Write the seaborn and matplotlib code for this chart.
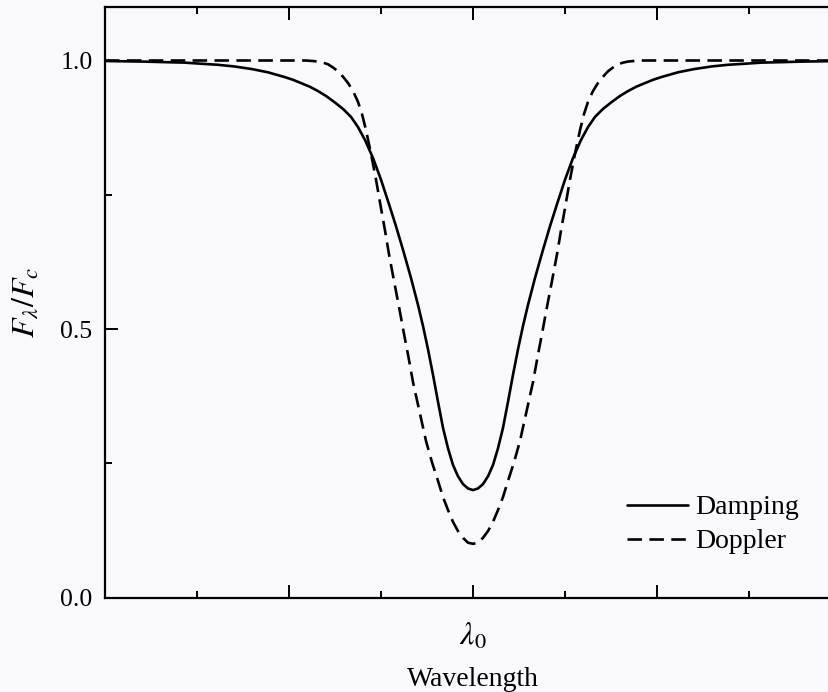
import matplotlib
matplotlib.use("Agg")
import matplotlib.pyplot as plt
from matplotlib.ticker import FixedLocator, NullFormatter, FixedFormatter
import seaborn as sns
import pandas as pd

# ---- data (wavelength offset from line centre, normalised flux) ----
damping_x = [-2.000, -1.794, -1.685, -1.565, -1.478, -1.386, -1.299, -1.201, -1.114, -1.022,
             -0.978, -0.935, -0.886, -0.842, -0.799, -0.755, -0.707, -0.663, -0.625, -0.587,
             -0.543, -0.500, -0.457, -0.419, -0.380, -0.337, -0.299, -0.272, -0.245, -0.217,
             -0.190, -0.163, -0.136, -0.109, -0.082, -0.054, -0.027, 0.000,
             0.027, 0.054, 0.082, 0.109, 0.136, 0.163, 0.190, 0.217, 0.245, 0.272, 0.299,
             0.337, 0.380, 0.419, 0.457, 0.500, 0.543, 0.587, 0.625, 0.663, 0.707, 0.755,
             0.799, 0.842, 0.886, 0.935, 0.978, 1.022, 1.114, 1.201, 1.299, 1.386, 1.478,
             1.565, 1.685, 1.794, 2.000]
damping_y = [0.999, 0.998, 0.997, 0.996, 0.994, 0.992, 0.989, 0.984, 0.978, 0.969,
             0.964, 0.958, 0.951, 0.943, 0.934, 0.923, 0.910, 0.895, 0.876, 0.852,
             0.818, 0.778, 0.733, 0.692, 0.647, 0.595, 0.545, 0.506, 0.463, 0.414,
             0.364, 0.316, 0.278, 0.247, 0.226, 0.211, 0.203, 0.200,
             0.203, 0.211, 0.226, 0.247, 0.278, 0.316, 0.364, 0.414, 0.463, 0.506, 0.545,
             0.595, 0.647, 0.692, 0.733, 0.778, 0.818, 0.852, 0.876, 0.895, 0.910, 0.923,
             0.934, 0.943, 0.951, 0.958, 0.964, 0.969, 0.978, 0.984, 0.989, 0.992, 0.994,
             0.996, 0.997, 0.998, 0.999]

doppler_x = [-2.000, -0.908, -0.870, -0.842, -0.815, -0.788, -0.761, -0.734, -0.707, -0.679,
             -0.652, -0.625, -0.603, -0.582, -0.554, -0.527, -0.500, -0.478, -0.457, -0.429,
             -0.402, -0.375, -0.353, -0.326, -0.288, -0.255, -0.223, -0.190, -0.163, -0.136,
             -0.109, -0.082, -0.054, -0.027, 0.000,
             0.027, 0.054, 0.082, 0.109, 0.136, 0.163, 0.190, 0.223, 0.255, 0.288, 0.326,
             0.353, 0.375, 0.402, 0.429, 0.457, 0.478, 0.500, 0.527, 0.554, 0.582, 0.603,
             0.625, 0.652, 0.679, 0.707, 0.734, 0.761, 0.788, 0.815, 0.842, 0.870, 0.908,
             2.000]
doppler_y = [1.000, 1.000, 0.999, 0.998, 0.996, 0.993, 0.987, 0.980, 0.970, 0.958,
             0.943, 0.923, 0.900, 0.871, 0.826, 0.778, 0.725, 0.683, 0.640, 0.589,
             0.541, 0.491, 0.452, 0.401, 0.342, 0.291, 0.252, 0.217, 0.187, 0.163,
             0.141, 0.124, 0.111, 0.102, 0.100,
             0.102, 0.111, 0.124, 0.141, 0.163, 0.187, 0.217, 0.252, 0.291, 0.342, 0.401,
             0.452, 0.491, 0.541, 0.589, 0.640, 0.683, 0.725, 0.778, 0.826, 0.871, 0.900,
             0.923, 0.943, 0.958, 0.970, 0.980, 0.987, 0.993, 0.996, 0.998, 0.999, 1.000,
             1.000]

series_labels = ["Damping", "Doppler"]
y_ticks = [0.0, 0.5, 1.0]
y_ticklabels = ["0.0", "0.5", "1.0"]
y_minor = [0.25, 0.75]
x_major = [-2, -1, 0, 1, 2]
x_ticklabels = ["", "", r"$\lambda_0$", "", ""]
x_minor = [-1.5, -0.5, 0.5, 1.5]

# ---- style ----
sns.set_theme(style="ticks")
bg = "#f9f9fd"
plt.rcParams["font.family"] = ["Liberation Serif", "DejaVu Serif"]
plt.rcParams["mathtext.fontset"] = "stix"
plt.rcParams["axes.facecolor"] = bg
plt.rcParams["figure.facecolor"] = bg

fig = plt.figure(figsize=(8.29, 6.92), dpi=100)
W, H = 829, 692
ax = fig.add_axes([105 / W, (H - 597.5) / H, 736 / W, 590.7 / H])

df_d = pd.DataFrame({"x": damping_x, "y": damping_y})
df_g = pd.DataFrame({"x": doppler_x, "y": doppler_y})
sns.lineplot(data=df_d, x="x", y="y", ax=ax, color="black", linewidth=1.9,
             label=series_labels[0], sort=False)
sns.lineplot(data=df_g, x="x", y="y", ax=ax, color="black", linewidth=1.9,
             linestyle=(0, (5.5, 2.8)), label=series_labels[1], sort=False)

ax.set_xlim(-2, 2)
ax.set_ylim(0, 1.1)

ax.yaxis.set_major_locator(FixedLocator(y_ticks))
ax.yaxis.set_major_formatter(FixedFormatter(y_ticklabels))
ax.yaxis.set_minor_locator(FixedLocator(y_minor))
ax.xaxis.set_major_locator(FixedLocator(x_major))
ax.xaxis.set_major_formatter(FixedFormatter(x_ticklabels))
ax.xaxis.set_minor_locator(FixedLocator(x_minor))
ax.xaxis.set_minor_formatter(NullFormatter())

for s in ax.spines.values():
    s.set_linewidth(1.6)
    s.set_color("black")
ax.tick_params(which="both", direction="in", top=True, right=True, color="black",
               width=1.4, labelcolor="black")
ax.tick_params(which="major", length=9.5)
ax.tick_params(which="minor", length=5)
ax.tick_params(axis="y", which="major", pad=9, labelsize=18.5)
ax.tick_params(axis="x", which="major", pad=17, labelsize=23)

ax.set_xlabel("Wavelength", fontsize=20, labelpad=11, color="black")
ax.set_ylabel(r"$F_\lambda/F_c$", fontsize=23, labelpad=14, color="black")

leg = ax.legend(loc="upper left", bbox_to_anchor=(627 / W, 1 - 495 / H),
                bbox_transform=fig.transFigure, frameon=False, borderpad=0,
                borderaxespad=0, handlelength=2.2, handletextpad=0.25,
                labelspacing=0.3, fontsize=20)
for t in leg.get_texts():
    t.set_color("black")

fig.savefig("out.png", dpi=100, facecolor=bg)
